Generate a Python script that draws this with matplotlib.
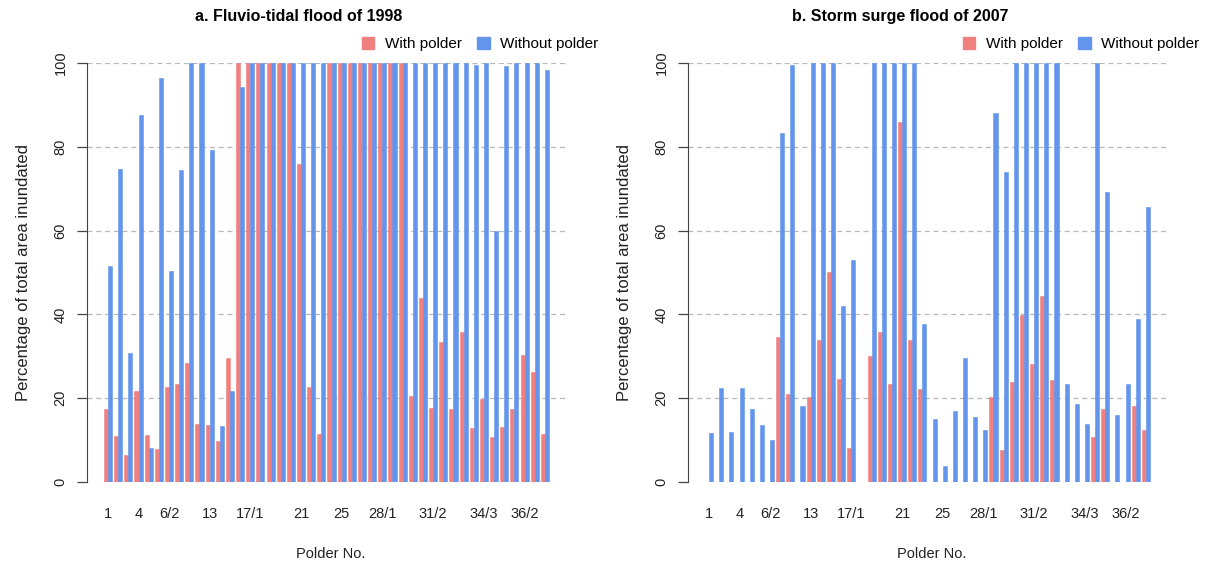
import numpy as np
import matplotlib
matplotlib.use("Agg")
import matplotlib.pyplot as plt
from matplotlib.patches import Patch

plt.rcParams['font.family'] = ['Liberation Sans', 'DejaVu Sans']

# polder names (only some are shown on the axis, like R does)
polders = ["1", "2", "3", "4", "5", "6/1", "6/2", "7/1", "7/2", "10/12",
           "13", "14/1", "14/2", "16", "17/1", "17/2", "18", "19", "20", "21",
           "22", "23", "24", "25", "26", "27/1", "27/2", "28/1", "28/2", "29",
           "30", "31/1", "31/2", "32", "33", "34/1", "34/2", "34/3", "35/1", "35/2",
           "36/1", "36/2", "37", "38"]
shown_labels = ["1", "4", "6/2", "13", "17/1", "21", "25", "28/1", "31/2", "34/3", "36/2"]

# a. Fluvio-tidal flood of 1998 (% area inundated)
with_1998 = [17.5, 10.9, 6.4, 21.8, 11.3, 7.8, 22.7, 23.5, 28.3, 13.9,
             13.5, 9.7, 29.6, 100, 100, 100, 100, 100, 100, 75.9,
             22.7, 11.5, 100, 100, 100, 100, 100, 100, 100, 100,
             20.6, 44.0, 17.7, 33.3, 17.5, 35.9, 12.9, 19.7, 10.8, 13.1,
             17.4, 30.2, 26.3, 11.4]
without_1998 = [51.5, 74.7, 30.8, 87.6, 8.1, 96.4, 50.3, 74.5, 100, 100,
                79.3, 13.4, 21.6, 94.3, 100, 100, 100, 100, 100, 100,
                100, 100, 100, 100, 100, 100, 100, 100, 100, 100,
                100, 100, 100, 100, 100, 100, 99.6, 100, 60.0, 99.4,
                100, 100, 100, 98.4]

# b. Storm surge flood of 2007
with_2007 = [0, 0, 0, 0, 0, 0, 0, 34.7, 20.9, 0,
             20.2, 34.0, 50.2, 24.5, 8.0, 0, 30.0, 35.9, 23.5, 86.0,
             33.9, 22.3, 0, 0, 0, 0, 0, 0, 20.2, 7.6,
             23.9, 39.8, 28.1, 44.4, 24.3, 0, 0, 0, 10.8, 17.5,
             0, 0, 18.1, 12.5]
without_2007 = [11.8, 22.5, 12.0, 22.5, 17.4, 13.6, 10.1, 83.4, 99.6, 18.1,
                100, 100, 100, 42.0, 53.1, 0, 100, 100, 100, 100,
                100, 37.7, 15.0, 3.8, 16.9, 29.6, 15.5, 12.5, 88.0, 73.9,
                100, 100, 100, 100, 100, 23.3, 18.6, 13.9, 100, 69.2,
                15.9, 23.3, 38.9, 65.7]

red = "#F08080"
blue = "#6495ED"
W, H = 1205, 563

fig = plt.figure(figsize=(W / 100, H / 100), dpi=100)

panels = [("a. Fluvio-tidal flood of 1998", with_1998, without_1998, 87),
          ("b. Storm surge flood of 2007", with_2007, without_2007, 688)]

x = np.arange(len(polders))
tick_pos = [polders.index(s) for s in shown_labels]

for title, w_vals, wo_vals, left_px in panels:
    ax = fig.add_axes([left_px / W, 81 / H, 478 / W, 419 / H])
    for yv in [20, 40, 60, 80, 100]:
        ax.axhline(yv, color="#b8b8b8", lw=0.9, ls=(0, (4, 3)), zorder=0)
    ax.bar(x - 0.2, w_vals, width=0.4, color=red, edgecolor=red, lw=0.4, zorder=2)
    ax.bar(x + 0.2, wo_vals, width=0.4, color=blue, edgecolor=blue, lw=0.4, zorder=2)
    ax.set_xlim(-2.07, 44.98)
    ax.set_ylim(0, 100)
    for s in ["top", "right", "bottom"]:
        ax.spines[s].set_visible(False)
    ax.spines["left"].set_color("#444444")
    ax.set_yticks([0, 20, 40, 60, 80, 100])
    ax.set_yticklabels(["0", "20", "40", "60", "80", "100"], rotation=90, va="center")
    ax.tick_params(axis="y", length=7, width=0.9, color="#444444", pad=7,
                   labelsize=10.5, labelcolor="#222222")
    ax.set_xticks(tick_pos)
    ax.set_xticklabels(shown_labels)
    ax.tick_params(axis="x", length=0, pad=18, labelsize=10.5, labelcolor="#222222")
    ax.set_xlabel("Polder No.", fontsize=10.5, labelpad=16, color="#222222")
    ax.xaxis.set_label_coords(0.51, -0.155)
    ax.set_ylabel("Percentage of total area inundated", fontsize=12,
                  labelpad=16, color="#222222")
    ax.set_title(title, fontsize=11.5, fontweight="bold", x=0.443, pad=30)
    handles = [Patch(color=red, label="With polder"),
               Patch(color=blue, label="Without polder")]
    ax.legend(handles=handles, ncol=2, loc="center right",
              bbox_to_anchor=(1.07, 1.045), frameon=False, fontsize=11,
              handlelength=0.8, handleheight=0.8, handletextpad=0.7,
              columnspacing=1.0, borderaxespad=0, borderpad=0)

fig.savefig("out.png", dpi=100)
